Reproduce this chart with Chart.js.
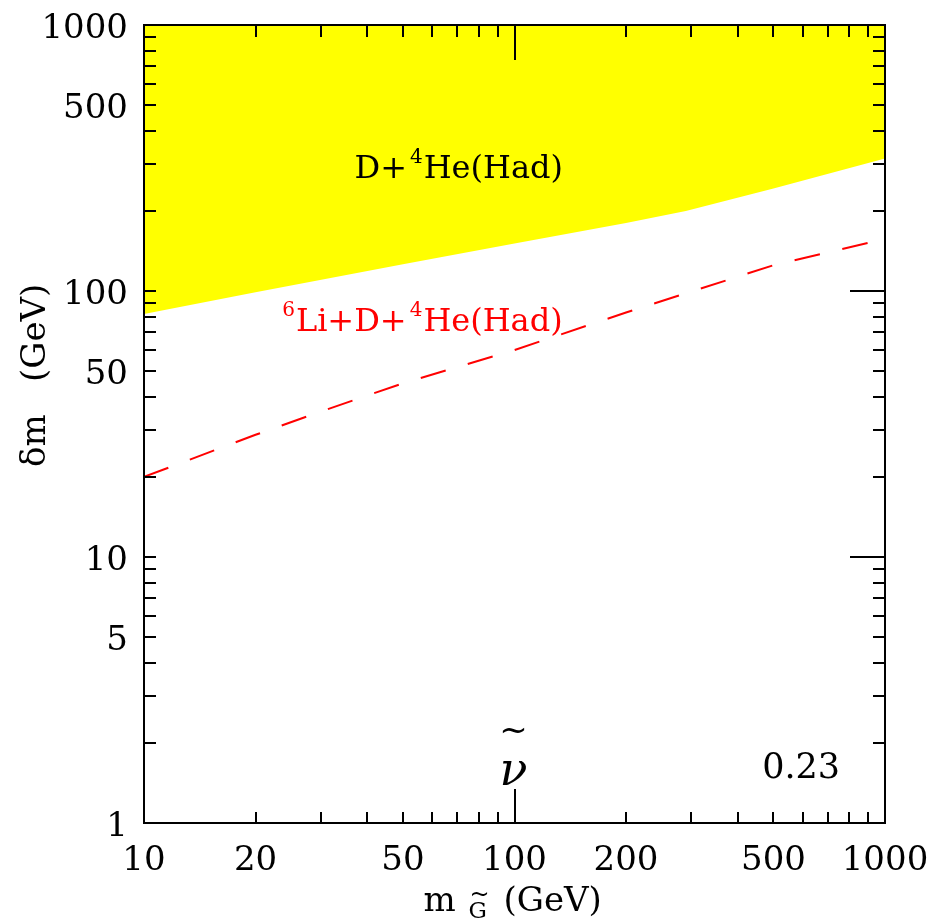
<!DOCTYPE html>
<html><head><meta charset="utf-8">
<script src="https://cdn.jsdelivr.net/npm/chart.js@4.4.1/dist/chart.umd.min.js"></script>
<style>html,body{margin:0;padding:0;background:#fff;}canvas{display:block;}</style>
</head><body>
<canvas id="c" width="935" height="921"></canvas>
<script>
// ---- data ----
const xTickValues = [10, 20, 50, 100, 200, 500, 1000];
const yTickValues = [1, 5, 10, 50, 100, 500, 1000];
// boundary of the yellow excluded region D+4He(Had)
const boundaryX = [10, 20, 50, 100, 200, 290, 500, 1000];
const boundaryY = [82, 99, 126, 151, 180, 200, 243, 315];
// red dashed 6Li+D+4He(Had) bound
const dashedX = [10, 20, 30, 50, 100, 200, 500, 1000];
const dashedY = [20, 28.8, 35.2, 45, 60, 83, 125, 157];

const FONT = "'DejaVu Serif', serif";

function pts(xs, ys) { return xs.map((x, i) => ({x: x, y: ys[i]})); }

function minorValues(lo, hi) {
  const out = [];
  for (let d = lo; d < hi; d *= 10) for (let k = 1; k <= 9; k++) out.push(k * d);
  out.push(hi);
  return out;
}

function drawRich(ctx, x, y, parts, color) {
  ctx.fillStyle = color;
  ctx.textBaseline = 'alphabetic';
  ctx.textAlign = 'left';
  let cx = x;
  for (const p of parts) {
    ctx.font = (p.style || '') + ' ' + p.size + 'px ' + FONT;
    ctx.fillText(p.t, cx, y + (p.dy || 0));
    cx += ctx.measureText(p.t).width + (p.gap || 0);
  }
}

const decor = {
  id: 'decor',
  afterDatasetsDraw(chart) {
    const ctx = chart.ctx, ca = chart.chartArea;
    const xs = chart.scales.x, ys = chart.scales.y;
    ctx.save();
    ctx.strokeStyle = '#000';
    ctx.lineWidth = 2;
    ctx.beginPath();
    // x ticks (inward, bottom and top)
    for (const v of minorValues(10, 1000)) {
      if (v === 10 || v === 1000) continue;
      const px = Math.round(xs.getPixelForValue(v));
      const major = (v === 100);
      ctx.moveTo(px, ca.bottom); ctx.lineTo(px, ca.bottom - (major ? 34 : 11));
      ctx.moveTo(px, ca.top); ctx.lineTo(px, ca.top + (major ? 35 : 12));
    }
    // y ticks (inward, left and right)
    for (const v of minorValues(1, 1000)) {
      if (v === 1 || v === 1000) continue;
      const py = Math.round(ys.getPixelForValue(v));
      const major = (v === 10 || v === 100);
      ctx.moveTo(ca.left, py); ctx.lineTo(ca.left + 12, py);
      ctx.moveTo(ca.right, py); ctx.lineTo(ca.right - (major ? 35 : 12), py);
    }
    ctx.stroke();
    ctx.strokeRect(ca.left, ca.top, ca.right - ca.left, ca.bottom - ca.top);

    // in-plot labels, anchored in data coordinates
    drawRich(ctx, xs.getPixelForValue(37), ys.getPixelForValue(266), [
      {t: 'D+', size: 32, gap: 3}, {t: '4', size: 20, dy: -15, gap: 1}, {t: 'He(Had)', size: 32}
    ], '#000');
    drawRich(ctx, xs.getPixelForValue(23.6), ys.getPixelForValue(70.7), [
      {t: '6', size: 20, dy: -15, gap: 1}, {t: 'Li+D+', size: 32, gap: 3}, {t: '4', size: 20, dy: -15, gap: 1}, {t: 'He(Had)', size: 32}
    ], '#ff0000');
    // sneutrino symbol
    const nx = xs.getPixelForValue(100);
    ctx.fillStyle = '#000';
    ctx.textAlign = 'center';
    ctx.textBaseline = 'alphabetic';
    ctx.font = 'italic 46px ' + FONT;
    ctx.fillText('ν', nx - 1, ys.getPixelForValue(1.39));
    ctx.font = '34px ' + FONT;
    ctx.fillText('~', nx - 1, ys.getPixelForValue(1.39) - 44);
    // 0.23
    ctx.font = '35px ' + FONT;
    ctx.textAlign = 'left';
    ctx.fillText('0.23', xs.getPixelForValue(466), ys.getPixelForValue(1.476));

    // axis titles
    const xc = (ca.left + ca.right) / 2;
    const by = ca.bottom + 88;
    ctx.textAlign = 'left';
    ctx.font = '34px ' + FONT;
    ctx.fillText('m', xc - 91, by);
    ctx.font = '23px ' + FONT;
    ctx.fillText('G', xc - 46, by + 7);
    ctx.font = '24px ' + FONT;
    ctx.fillText('~', xc - 45, by - 9);
    ctx.font = '34px ' + FONT;
    ctx.fillText('(GeV)', xc - 11, by);

    ctx.save();
    ctx.translate(45, ca.top + 442);
    ctx.rotate(-Math.PI / 2);
    ctx.font = '34px ' + FONT;
    ctx.fillText('δm', 0, 0);
    ctx.fillText('(GeV)', 85, 0);
    ctx.restore();
    ctx.restore();
  }
};

new Chart(document.getElementById('c'), {
  type: 'line',
  data: {
    datasets: [
      {
        data: pts(boundaryX, boundaryY),
        borderWidth: 0,
        borderColor: 'rgba(0,0,0,0)',
        backgroundColor: '#ffff00',
        fill: 'end',
        pointRadius: 0,
        tension: 0
      },
      {
        data: pts(dashedX, dashedY),
        borderColor: '#ff0000',
        borderWidth: 2,
        borderDash: [26, 23],
        fill: false,
        pointRadius: 0,
        tension: 0
      }
    ]
  },
  options: {
    responsive: false,
    animation: false,
    devicePixelRatio: 1,
    layout: {padding: {top: 25, right: 50, left: 0, bottom: 0}},
    plugins: {legend: {display: false}, tooltip: {enabled: false}},
    scales: {
      x: {
        type: 'logarithmic', min: 10, max: 1000,
        grid: {display: false, drawTicks: false},
        border: {display: false},
        afterBuildTicks: s => { s.ticks = xTickValues.map(v => ({value: v})); },
        afterFit: s => { s.height = 98; s.paddingLeft = 0; s.paddingRight = 0; },
        ticks: {
          autoSkip: false, maxRotation: 0, padding: 18, color: '#000',
          font: {family: 'DejaVu Serif', size: 34},
          callback: v => String(v)
        }
      },
      y: {
        type: 'logarithmic', min: 1, max: 1000,
        grid: {display: false, drawTicks: false},
        border: {display: false},
        afterBuildTicks: s => { s.ticks = yTickValues.map(v => ({value: v})); },
        afterFit: s => { s.width = 144; s.paddingTop = 0; s.paddingBottom = 0; },
        ticks: {
          autoSkip: false, padding: 16, labelOffset: 4, color: '#000',
          font: {family: 'DejaVu Serif', size: 34},
          callback: v => String(v)
        }
      }
    }
  },
  plugins: [decor]
});
</script>
</body></html>
